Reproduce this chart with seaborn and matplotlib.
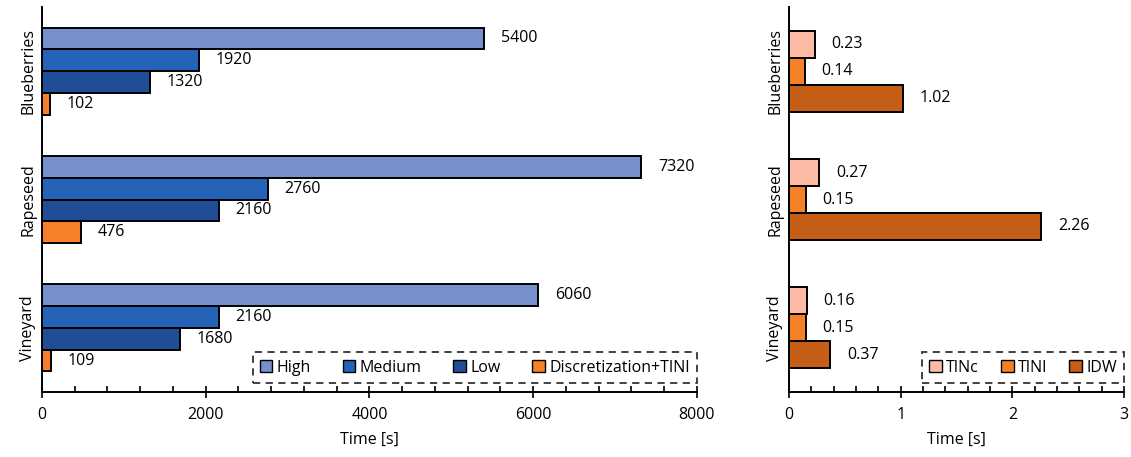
import matplotlib
matplotlib.use("Agg")
import matplotlib.pyplot as plt
from matplotlib.ticker import MultipleLocator
import seaborn as sns
import pandas as pd

sns.set_theme(style="white")
plt.rcParams["font.family"] = ["Open Sans", "DejaVu Sans"]
plt.rcParams.update({"text.color": "black", "axes.labelcolor": "black",
                     "xtick.color": "black", "ytick.color": "black"})

crops = ["Blueberries", "Rapeseed", "Vineyard"]

# Grid-based methods vs. discretization (seconds)
grid_methods = ["High", "Medium", "Low", "Discretization+TINI"]
grid_high = [5400, 7320, 6060]
grid_medium = [1920, 2760, 2160]
grid_low = [1320, 2160, 1680]
grid_disc = [102, 476, 109]
grid_colors = ["#7590CC", "#2563B8", "#1F4E96", "#F5822A"]

# Interpolation methods (seconds)
interp_methods = ["TINc", "TINI", "IDW"]
interp_tinc = [0.23, 0.27, 0.16]
interp_tini = [0.14, 0.15, 0.15]
interp_idw = [1.02, 2.26, 0.37]
interp_colors = ["#FDBBA5", "#F58025", "#C55E17"]

left_df = pd.DataFrame({
    "crop": crops * 4,
    "method": [m for m in grid_methods for _ in crops],
    "time": grid_high + grid_medium + grid_low + grid_disc,
})
right_df = pd.DataFrame({
    "crop": crops * 3,
    "method": [m for m in interp_methods for _ in crops],
    "time": interp_tinc + interp_tini + interp_idw,
})

FS = 11.5

fig = plt.figure(figsize=(11.31, 4.57), dpi=100)
ax1 = fig.add_axes([0.0371, 0.1422, 0.5791, 0.8425])
ax2 = fig.add_axes([0.6976, 0.1422, 0.2962, 0.8425])

sns.barplot(data=left_df, y="crop", x="time", hue="method", order=crops,
            hue_order=grid_methods, palette=grid_colors, orient="h",
            width=0.68, saturation=1, edgecolor="black", linewidth=1.4, ax=ax1)
sns.barplot(data=right_df, y="crop", x="time", hue="method", order=crops,
            hue_order=interp_methods, palette=interp_colors, orient="h",
            width=0.63, saturation=1, edgecolor="black", linewidth=1.4, ax=ax2)

for c in ax1.containers:
    ax1.bar_label(c, fmt="%d", padding=12, fontsize=FS, color="black")
for c in ax2.containers:
    ax2.bar_label(c, fmt="%.2f", padding=12, fontsize=FS, color="black")

for ax, xmax, major, minor in [(ax1, 8000, 2000, 400), (ax2, 3, 1, 0.2)]:
    ax.set_xlim(0, xmax)
    ax.set_ylim(2.5, -0.5)
    ax.xaxis.set_major_locator(MultipleLocator(major))
    ax.xaxis.set_minor_locator(MultipleLocator(minor))
    ax.tick_params(axis="x", which="major", direction="inout", length=9,
                   width=1.2, color="black", labelcolor="black",
                   labelsize=FS, pad=6, bottom=True)
    ax.tick_params(axis="x", which="minor", direction="in", length=4,
                   width=1.2, color="black", bottom=True)
    ax.tick_params(axis="y", length=0, labelsize=FS, labelcolor="black", pad=4)
    for lbl in ax.get_yticklabels():
        lbl.set_rotation(90)
        lbl.set_va("center")
    ax.set_ylabel("")
    ax.set_xlabel("Time [s]", fontsize=FS, labelpad=7, color="black")
    for side in ["top", "right"]:
        ax.spines[side].set_visible(False)
    for side in ["left", "bottom"]:
        ax.spines[side].set_color("black")
        ax.spines[side].set_linewidth(1.4)

leg_kw = dict(frameon=True, fancybox=False, edgecolor="black", fontsize=FS,
              handlelength=0.8, handleheight=0.8, handletextpad=0.25,
              borderpad=0.45, borderaxespad=0, title=None, labelcolor="black")
leg1 = ax1.legend(loc="lower right", ncol=4, bbox_to_anchor=(1.0, 0.024),
                  columnspacing=2.0, **leg_kw)
leg2 = ax2.legend(loc="lower right", ncol=3, bbox_to_anchor=(1.0, 0.024),
                  columnspacing=1.4, **leg_kw)
for leg in (leg1, leg2):
    fr = leg.get_frame()
    fr.set_linestyle((0, (4, 3)))
    fr.set_linewidth(1.3)
    for h in leg.legend_handles:
        h.set_edgecolor("black")
        h.set_linewidth(1.0)

fig.savefig("out.png", dpi=100)
